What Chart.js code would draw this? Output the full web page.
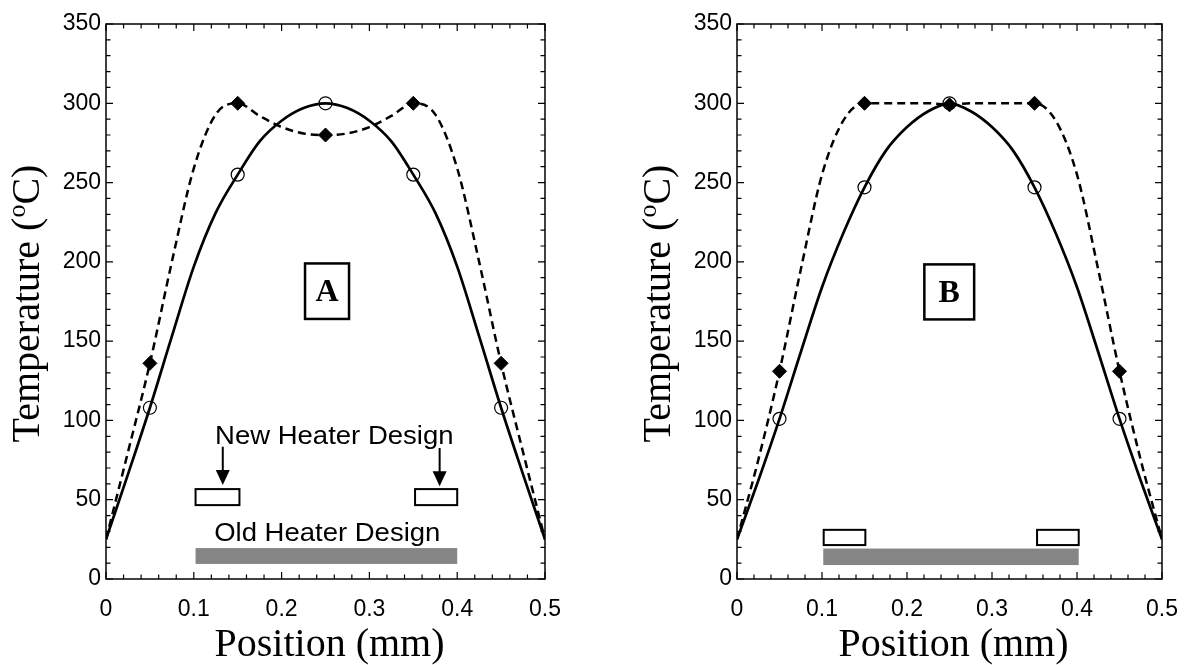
<!DOCTYPE html>
<html>
<head>
<meta charset="utf-8">
<script src="https://cdn.jsdelivr.net/npm/chart.js@4"></script>
<style>
  html, body { margin: 0; padding: 0; background: #fff; }
  #wrap { position: relative; width: 1195px; height: 665px; }
  .panel { position: absolute; top: 0; height: 665px; }
</style>
</head>
<body>
<div id="wrap">
  <div class="panel" style="left:0;width:600px"><canvas id="chartA"></canvas></div>
  <div class="panel" style="left:600px;width:595px"><canvas id="chartB"></canvas></div>
</div>
<script>
// curve samples (position in mm, temperature in C)
const curveX  = [0, 0.025, 0.05, 0.075, 0.1, 0.125, 0.15, 0.175, 0.2, 0.225, 0.25,
                 0.275, 0.3, 0.325, 0.35, 0.375, 0.4, 0.425, 0.45, 0.475, 0.5];
const solidA  = [25, 66, 108, 153, 197, 231, 255, 276, 289, 297, 300,
                 297, 289, 276, 255, 231, 197, 153, 108, 66, 25];
const dashedA = [25, 80, 136, 200, 259, 293, 300, 292, 285, 281, 280,
                 281, 285, 292, 300, 293, 259, 200, 136, 80, 25];
const solidB  = [25, 62, 101, 143, 184, 218, 247, 270, 285, 295, 300,
                 295, 285, 270, 247, 218, 184, 143, 101, 62, 25];
const dashedB = [25, 75, 131, 195, 255, 289, 300, 300, 300, 300, 299,
                 300, 300, 300, 300, 289, 255, 195, 131, 75, 25];

// marker points
const markerX   = [0.05, 0.15, 0.25, 0.35, 0.45];
const circlesA  = [108, 255, 300, 255, 108];
const diamondsA = [136, 300, 280, 300, 136];
const circlesB  = [101, 247, 300, 247, 101];
const diamondsB = [131, 300, 299, 300, 131];

// tick labels
const xTicks = [0, 0.1, 0.2, 0.3, 0.4, 0.5];
const yTicks = [0, 50, 100, 150, 200, 250, 300, 350];

const xTitle = 'Position (mm)';

const panelA = {
    label: 'A',
    labelBox: [0.2267, 0.2768, 164, 199],
    newHeaters: [[0.102, 0.152, 46.6, 56.7], [0.352, 0.400, 46.6, 56.7]],
    oldHeater: [0.102, 0.400, 9.5, 19.5],
    arrows: [[0.133, 83.4, 59.3], [0.380, 82.6, 58.5]],
    texts: [['New Heater Design', 0.26, 85], ['Old Heater Design', 0.252, 24]]
};
const panelB = {
    label: 'B',
    labelBox: [0.2204, 0.279, 163.7, 198.4],
    newHeaters: [[0.102, 0.151, 21.4, 31], [0.353, 0.402, 21.4, 31]],
    oldHeater: [0.1015, 0.402, 8.8, 19.2],
    arrows: [],
    texts: []
};

function toPts(xs, ys) {
    return xs.map((x, i) => ({ x: x, y: ys[i] }));
}

function framePlugin(p) {
    return {
        id: 'frame' + p.label,
        afterDatasetsDraw(chart) {
            const { ctx, scales: { x, y } } = chart;
            ctx.save();

            // old heater (grey bar)
            const o = p.oldHeater;
            ctx.fillStyle = '#858585';
            ctx.fillRect(x.getPixelForValue(o[0]), y.getPixelForValue(o[3]),
                x.getPixelForValue(o[1]) - x.getPixelForValue(o[0]),
                y.getPixelForValue(o[2]) - y.getPixelForValue(o[3]));

            // new heaters (open boxes)
            ctx.strokeStyle = '#000';
            ctx.lineWidth = 2;
            p.newHeaters.forEach(h => {
                const x0 = x.getPixelForValue(h[0]), x1 = x.getPixelForValue(h[1]);
                const y0 = y.getPixelForValue(h[3]), y1 = y.getPixelForValue(h[2]);
                ctx.fillStyle = '#fff';
                ctx.fillRect(x0, y0, x1 - x0, y1 - y0);
                ctx.strokeRect(x0, y0, x1 - x0, y1 - y0);
            });

            // arrows
            ctx.fillStyle = '#000';
            p.arrows.forEach(a => {
                const px = x.getPixelForValue(a[0]);
                const top = y.getPixelForValue(a[1]);
                const tip = y.getPixelForValue(a[2]);
                ctx.beginPath();
                ctx.moveTo(px, top);
                ctx.lineTo(px, tip - 12);
                ctx.stroke();
                ctx.beginPath();
                ctx.moveTo(px - 7, tip - 15);
                ctx.lineTo(px + 7, tip - 15);
                ctx.lineTo(px, tip);
                ctx.closePath();
                ctx.fill();
            });

            // texts (slightly wide face, as in the original)
            ctx.font = '25px "Liberation Sans", Arial, sans-serif';
            ctx.textAlign = 'center';
            ctx.textBaseline = 'alphabetic';
            p.texts.forEach(t => {
                ctx.save();
                ctx.translate(x.getPixelForValue(t[1]), y.getPixelForValue(t[2]));
                ctx.scale(1.1, 1);
                ctx.fillText(t[0], 0, 0);
                ctx.restore();
            });

            // panel label box
            const b = p.labelBox;
            const bx0 = x.getPixelForValue(b[0]), bx1 = x.getPixelForValue(b[1]);
            const by0 = y.getPixelForValue(b[3]), by1 = y.getPixelForValue(b[2]);
            ctx.lineWidth = 2.5;
            ctx.strokeRect(bx0, by0, bx1 - bx0, by1 - by0);
            ctx.font = 'bold 32px "Liberation Serif", "Times New Roman", serif';
            ctx.textBaseline = 'middle';
            ctx.fillText(p.label, (bx0 + bx1) / 2, (by0 + by1) / 2 + 2);
            ctx.restore();
        },
        afterDraw(chart) {
            const { ctx, chartArea: a, scales: { x, y } } = chart;
            ctx.save();
            ctx.strokeStyle = '#000';
            ctx.lineWidth = 1.5;
            ctx.strokeRect(a.left, a.top, a.right - a.left, a.bottom - a.top);

            // inward ticks on all four sides
            ctx.lineWidth = 1.2;
            ctx.beginPath();
            for (let i = 0; i <= 25; i++) {
                const px = x.getPixelForValue(i * 0.02);
                const len = i % 5 === 0 ? 7 : 4.5;
                ctx.moveTo(px, a.bottom); ctx.lineTo(px, a.bottom - len);
                ctx.moveTo(px, a.top); ctx.lineTo(px, a.top + len);
            }
            for (let i = 0; i <= 35; i++) {
                const py = y.getPixelForValue(i * 10);
                const len = i % 5 === 0 ? 7 : 4.5;
                ctx.moveTo(a.left, py); ctx.lineTo(a.left + len, py);
                ctx.moveTo(a.right, py); ctx.lineTo(a.right - len, py);
            }
            ctx.stroke();

            // axis titles
            ctx.fillStyle = '#000';
            ctx.font = '40px "Liberation Serif", "Times New Roman", serif';
            ctx.textAlign = 'center';
            ctx.textBaseline = 'middle';
            ctx.fillText(xTitle, (a.left + a.right) / 2 + 4, 645);

            const big = '40px "Liberation Serif", "Times New Roman", serif';
            const small = '26px "Liberation Serif", "Times New Roman", serif';
            const s1 = 'Temperature (', s2 = 'o', s3 = 'C)';
            ctx.font = big;
            const w1 = ctx.measureText(s1).width, w3 = ctx.measureText(s3).width;
            ctx.font = small;
            const w2 = ctx.measureText(s2).width;
            const total = w1 + w2 + w3;
            ctx.translate(a.left - 80, (a.top + a.bottom) / 2 + 2);
            ctx.rotate(-Math.PI / 2);
            ctx.textAlign = 'left';
            ctx.textBaseline = 'alphabetic';
            let cx = -total / 2;
            ctx.font = big;
            ctx.fillText(s1, cx, 13);
            cx += w1;
            ctx.font = small;
            ctx.fillText(s2, cx, -1);
            cx += w2;
            ctx.font = big;
            ctx.fillText(s3, cx, 13);
            ctx.restore();
        }
    };
}

function makeChart(id, solid, dashed, circles, diamonds, yWidth, padRight, p) {
    return new Chart(document.getElementById(id), {
        type: 'scatter',
        data: {
            datasets: [
                { data: toPts(curveX, solid), showLine: true, borderColor: '#000', borderWidth: 2.7,
                  pointRadius: 0, cubicInterpolationMode: 'monotone' },
                { data: toPts(curveX, dashed), showLine: true, borderColor: '#000', borderWidth: 2.5,
                  borderDash: [8, 5], pointRadius: 0, cubicInterpolationMode: 'monotone' },
                { data: toPts(markerX, circles), showLine: false, pointStyle: 'circle', pointRadius: 6.5,
                  borderColor: '#000', borderWidth: 1.2, backgroundColor: 'rgba(0,0,0,0)' },
                { data: toPts(markerX, diamonds), showLine: false, pointStyle: 'rectRot', pointRadius: 7,
                  borderColor: '#000', borderWidth: 1, backgroundColor: '#000' }
            ]
        },
        options: {
            responsive: true,
            maintainAspectRatio: false,
            animation: false,
            layout: { padding: { left: 0, top: 24, right: padRight, bottom: 0 } },
            plugins: { legend: { display: false }, tooltip: { enabled: false } },
            scales: {
                x: {
                    type: 'linear', min: 0, max: 0.5,
                    afterFit: s => { s.height = 86; },
                    afterBuildTicks: s => { s.ticks = xTicks.map(v => ({ value: v })); },
                    grid: { display: false, drawTicks: false },
                    border: { display: false },
                    ticks: { padding: 17, color: '#000', maxRotation: 0,
                             font: { family: '"Liberation Sans", Arial, sans-serif', size: 23 },
                             callback: v => String(v) }
                },
                y: {
                    type: 'linear', min: 0, max: 350,
                    afterFit: s => { s.width = yWidth; },
                    afterBuildTicks: s => { s.ticks = yTicks.map(v => ({ value: v })); },
                    grid: { display: false, drawTicks: false },
                    border: { display: false },
                    ticks: { padding: 5, color: '#000',
                             font: { family: '"Liberation Sans", Arial, sans-serif', size: 23 },
                             callback: v => String(v) }
                }
            }
        },
        plugins: [framePlugin(p)]
    });
}

makeChart('chartA', solidA, dashedA, circlesA, diamondsA, 106, 55, panelA);
makeChart('chartB', solidB, dashedB, circlesB, diamondsB, 137, 19, panelB);
</script>
</body>
</html>
